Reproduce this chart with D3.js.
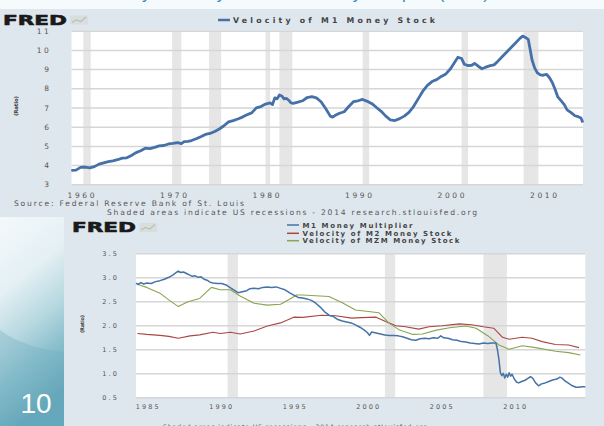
<!DOCTYPE html>
<html><head><meta charset="utf-8">
<script src="https://cdn.jsdelivr.net/npm/d3@7/dist/d3.min.js"></script>
<style>body{margin:0;background:#fff}svg{display:block}</style>
</head><body>
<svg id="c" width="604" height="426"></svg>
<script>
// ---------- DATA ----------
const slideTitle = "Velocity of Money Stock and Money Multiplier (MZM)";
const slideNumber = "10";

// Chart 1: Velocity of M1 Money Stock
const c1Legend = "Velocity of M1 Money Stock";
const c1YTicks = [3,4,5,6,7,8,9,10,11];
const c1XTicks = [1960,1970,1980,1990,2000,2010];
const c1Recessions = [[1960.3,1961.1],[1969.9,1970.9],[1973.9,1975.2],[1980.0,1980.5],[1981.5,1982.9],[1990.5,1991.2],[2001.2,2001.9],[2007.9,2009.5]];
const m1VelYears = [1959.0,1959.5,1960.0,1960.5,1961.0,1961.5,1962.0,1962.5,1963.0,1963.5,1964.0,1964.5,1965.0,1965.5,1966.0,1966.5,1967.0,1967.5,1968.0,1968.5,1969.0,1969.5,1970.0,1970.5,1970.9,1971.2,1971.6,1972.0,1972.5,1973.0,1973.5,1974.0,1974.5,1975.0,1975.5,1976.0,1976.5,1977.0,1977.5,1978.0,1978.5,1979.0,1979.5,1980.0,1980.5,1980.75,1981.0,1981.25,1981.5,1981.75,1982.0,1982.25,1982.5,1982.75,1983.0,1983.5,1984.0,1984.5,1985.0,1985.5,1986.0,1986.5,1987.0,1987.25,1987.5,1988.0,1988.5,1989.0,1989.5,1990.0,1990.5,1991.0,1991.5,1992.0,1992.5,1993.0,1993.5,1994.0,1994.5,1995.0,1995.5,1996.0,1996.5,1997.0,1997.5,1998.0,1998.5,1999.0,1999.5,2000.0,2000.5,2000.8,2001.2,2001.5,2001.9,2002.3,2002.6,2003.0,2003.4,2003.8,2004.3,2004.7,2005.0,2005.5,2006.0,2006.5,2007.0,2007.5,2007.8,2008.1,2008.4,2008.6,2008.8,2009.1,2009.4,2009.7,2010.0,2010.4,2010.7,2011.0,2011.3,2011.6,2011.9,2012.3,2012.6,2013.0,2013.45,2013.8,2014.1,2014.3];
const m1VelValues = [3.72,3.74,3.88,3.90,3.86,3.92,4.05,4.12,4.18,4.22,4.28,4.36,4.38,4.50,4.65,4.75,4.88,4.86,4.92,5.00,5.02,5.10,5.13,5.17,5.12,5.22,5.24,5.28,5.37,5.48,5.60,5.65,5.75,5.88,6.05,6.25,6.32,6.40,6.50,6.62,6.72,6.98,7.05,7.18,7.24,7.15,7.50,7.45,7.65,7.60,7.45,7.48,7.38,7.24,7.22,7.28,7.35,7.52,7.57,7.50,7.30,6.95,6.55,6.50,6.58,6.70,6.78,7.05,7.30,7.35,7.42,7.32,7.20,7.00,6.80,6.55,6.35,6.32,6.42,6.55,6.75,7.05,7.45,7.85,8.15,8.35,8.45,8.62,8.75,9.02,9.40,9.62,9.55,9.25,9.18,9.20,9.30,9.15,9.02,9.10,9.18,9.22,9.35,9.60,9.85,10.10,10.35,10.60,10.72,10.65,10.55,10.05,9.50,9.05,8.80,8.70,8.68,8.72,8.55,8.30,7.95,7.55,7.38,7.15,6.88,6.75,6.57,6.52,6.45,6.22];

// Chart 2
const c2Legend = ["M1 Money Multiplier","Velocity of M2 Money Stock","Velocity of MZM Money Stock"];
const c2YTicks = [0.5,1.0,1.5,2.0,2.5,3.0,3.5];
const c2XTicks = [1985,1990,1995,2000,2005,2010];
const c2Recessions = [[1990.5,1991.2],[2001.2,2001.9],[2007.9,2009.5]];
const m1MultYears = [1984.27,1984.4,1984.6,1984.8,1985.0,1985.3,1985.6,1985.9,1986.2,1986.5,1986.8,1987.0,1987.15,1987.3,1987.5,1987.7,1987.9,1988.1,1988.3,1988.5,1988.7,1988.9,1989.1,1989.3,1989.5,1989.8,1990.1,1990.4,1990.7,1991.0,1991.2,1991.5,1991.8,1992.0,1992.3,1992.6,1992.9,1993.2,1993.5,1993.8,1994.1,1994.4,1994.7,1995.0,1995.3,1995.6,1995.9,1996.2,1996.5,1996.8,1997.1,1997.4,1997.7,1998.0,1998.3,1998.6,1998.9,1999.2,1999.5,1999.8,2000.0,2000.15,2000.3,2000.6,2000.9,2001.2,2001.5,2001.8,2002.1,2002.4,2002.7,2003.0,2003.3,2003.6,2003.9,2004.2,2004.5,2004.8,2005.0,2005.2,2005.5,2005.8,2006.1,2006.4,2006.7,2007.0,2007.3,2007.6,2007.9,2008.2,2008.5,2008.75,2008.85,2008.95,2009.05,2009.15,2009.25,2009.35,2009.45,2009.55,2009.65,2009.75,2009.85,2010.0,2010.15,2010.3,2010.5,2010.7,2010.9,2011.1,2011.25,2011.45,2011.65,2011.85,2012.1,2012.35,2012.6,2012.9,2013.1,2013.25,2013.45,2013.7,2013.95,2014.2,2014.4,2014.6,2014.83];
const m1MultValues = [2.88,2.85,2.89,2.86,2.88,2.87,2.91,2.93,2.96,3.00,3.05,3.10,3.13,3.10,3.11,3.08,3.05,3.02,3.03,3.00,3.01,2.96,2.94,2.90,2.88,2.87,2.87,2.84,2.78,2.72,2.68,2.70,2.72,2.76,2.77,2.76,2.79,2.80,2.79,2.80,2.77,2.74,2.68,2.63,2.58,2.57,2.55,2.52,2.46,2.38,2.28,2.21,2.18,2.12,2.09,2.07,2.05,2.01,1.96,1.90,1.85,1.79,1.86,1.84,1.82,1.80,1.79,1.79,1.78,1.76,1.73,1.70,1.69,1.72,1.73,1.72,1.74,1.73,1.78,1.74,1.73,1.70,1.69,1.66,1.65,1.63,1.62,1.61,1.63,1.62,1.63,1.63,1.50,1.30,1.02,0.95,1.00,0.90,0.98,0.92,1.01,0.94,0.98,0.88,0.82,0.80,0.83,0.85,0.89,0.93,0.90,0.80,0.74,0.78,0.80,0.83,0.86,0.88,0.92,0.90,0.84,0.79,0.74,0.71,0.71,0.72,0.72];
const m2VelYears = [1984.36,1985.0,1985.9,1986.5,1987.15,1987.95,1988.6,1989.5,1990.0,1990.7,1991.35,1992.3,1993.2,1994.1,1995.0,1995.6,1996.9,1997.85,1998.95,1999.6,2000.6,2001.25,2001.95,2002.6,2003.5,2004.2,2005.1,2006.25,2007.1,2007.9,2008.6,2009.2,2009.65,2010.55,2011.2,2011.9,2012.8,2013.7,2014.4];
const m2VelValues = [1.83,1.81,1.79,1.77,1.73,1.78,1.80,1.855,1.83,1.855,1.82,1.88,1.985,2.05,2.17,2.165,2.21,2.20,2.15,2.16,2.17,2.08,1.99,1.97,1.92,1.97,1.99,2.03,2.01,1.97,1.94,1.75,1.71,1.75,1.73,1.66,1.60,1.59,1.535];
const mzmVelYears = [1984.36,1984.6,1985.0,1985.9,1986.5,1987.15,1987.8,1988.6,1989.4,1990.0,1990.7,1991.35,1992.3,1993.2,1994.1,1994.8,1995.2,1995.6,1997.4,1998.3,1999.2,2000.8,2001.5,2002.2,2003.1,2003.75,2004.7,2005.6,2006.7,2007.4,2008.3,2008.95,2009.65,2010.55,2011.45,2012.8,2013.7,2014.5];
const mzmVelValues = [2.86,2.83,2.79,2.67,2.53,2.39,2.49,2.56,2.79,2.74,2.74,2.61,2.46,2.42,2.44,2.56,2.63,2.63,2.60,2.47,2.32,2.26,2.04,1.90,1.81,1.82,1.90,1.95,1.985,1.94,1.76,1.59,1.50,1.575,1.535,1.46,1.43,1.38];
const c2Colors = ["#4572a7","#aa4643","#89a54e"];

const sourceText = "Source: Federal Reserve Bank of St. Louis";
const shadedText = "Shaded areas indicate US recessions - 2014 research.stlouisfed.org";

// ---------- DRAW ----------
const svg = d3.select("#c");
const BG = "#dfe7ee";
const defs = svg.append("defs");
const g1 = defs.append("linearGradient").attr("id","side").attr("x1",0).attr("y1",0).attr("x2",0.25).attr("y2",1);
[["0%","#f4f9fb"],["35%","#e4f0f4"],["60%","#b7d8e0"],["78%","#8cc0cd"],["100%","#62a5b8"]].forEach(s=>g1.append("stop").attr("offset",s[0]).attr("stop-color",s[1]));

svg.append("rect").attr("width",604).attr("height",426).attr("fill",BG);
svg.append("rect").attr("width",604).attr("height",9).attr("fill","#f5fafc");
svg.append("text").attr("x",92).attr("y",-1).attr("font-family","Liberation Sans, Arial, sans-serif").attr("font-size",17).attr("fill","#2b8cc4").text(slideTitle);
svg.append("rect").attr("x",0).attr("y",217).attr("width",64).attr("height",209).attr("fill","url(#side)");
svg.append("path").attr("d","M0,330 C20,345 45,350 64,352 L64,426 L0,426 Z").attr("fill","#6fb0c1").attr("opacity",0.35);
svg.append("text").attr("x",36).attr("y",413).attr("text-anchor","middle").attr("font-family","Liberation Sans, Arial, sans-serif").attr("font-size",28).attr("fill","#ffffff").text(slideNumber);

function fredLogo(x,y,w,h){
  const g = svg.append("g");
  g.append("text").attr("x",x).attr("y",y+h).attr("font-family","DejaVu Sans, sans-serif").attr("font-weight","bold")
    .attr("font-size",h*1.38).attr("textLength",w).attr("lengthAdjust","spacingAndGlyphs").attr("fill","#1a1a1a").attr("stroke","#1a1a1a").attr("stroke-width",0.6).text("FRED");
  const ix = x+w+3, iw = h*1.8;
  g.append("rect").attr("x",ix).attr("y",y+1).attr("width",iw).attr("height",h-1).attr("fill","#d9dde0");
  g.append("path").attr("d",`M${ix+2},${y+h-2} L${ix+iw*0.35},${y+h*0.55} L${ix+iw*0.6},${y+h*0.7} L${ix+iw-2},${y+h*0.25}`).attr("fill","none").attr("stroke","#b5c6a8").attr("stroke-width",1.2);
}

// ----- Chart 1 -----
const p1 = {l:71.5, r:583, t:30.7, b:184.3};
const x1 = d3.scaleLinear().domain([1959,2014.3]).range([71.3,582.8]);
const y1 = d3.scaleLinear().domain([3,11]).range([p1.b,p1.t]);
fredLogo(3,14.5,64,10);
svg.append("rect").attr("x",p1.l).attr("y",p1.t).attr("width",p1.r-p1.l).attr("height",p1.b-p1.t).attr("fill","#fff");
svg.append("g").selectAll("rect").data(c1Recessions).join("rect")
  .attr("x",d=>x1(d[0])).attr("width",d=>x1(d[1])-x1(d[0])).attr("y",p1.t).attr("height",p1.b-p1.t).attr("fill","#e6e6e6");
const gy1 = svg.append("g").attr("transform",`translate(${p1.l},0)`)
  .call(d3.axisLeft(y1).tickValues(c1YTicks).tickFormat(d3.format("d")).tickSize(-(p1.r-p1.l)).tickPadding(20));
gy1.select(".domain").remove();
gy1.selectAll("line").attr("stroke","#d6d6d6").attr("stroke-width",1.5);
gy1.selectAll("text").attr("font-family","DejaVu Sans, sans-serif").attr("font-size",7.5).attr("letter-spacing",2.6).attr("fill","#555").attr("dy","0.35em");
const gx1 = svg.append("g").attr("transform",`translate(0,${p1.b})`)
  .call(d3.axisBottom(x1).tickValues(c1XTicks).tickFormat(d3.format("d")).tickSize(0).tickPadding(8));
gx1.select(".domain").remove();
gx1.selectAll("text").attr("font-family","DejaVu Sans, sans-serif").attr("font-size",7.5).attr("letter-spacing",2.6).attr("fill","#555").attr("dx","1.3");
const line1 = d3.line().x((d,i)=>x1(m1VelYears[i])).y(d=>y1(d)).curve(d3.curveLinear);
svg.append("path").datum(m1VelValues).attr("d",line1).attr("fill","none").attr("stroke","#4570a8").attr("stroke-width",2.8).attr("stroke-linejoin","round");
svg.append("text").attr("transform","translate(18,106) rotate(-90)").attr("text-anchor","middle").attr("font-family","DejaVu Sans, sans-serif").attr("font-weight","bold").attr("font-size",5.5).attr("fill","#444").attr("textLength",20).text("(Ratio)");
// legend 1
svg.append("line").attr("x1",218).attr("x2",230).attr("y1",20).attr("y2",20).attr("stroke","#4570a8").attr("stroke-width",2.5);
svg.append("text").attr("x",233).attr("y",23).attr("font-family","DejaVu Sans, sans-serif").attr("font-weight","bold").attr("font-size",7.8).attr("fill","#444").attr("textLength",202).attr("lengthAdjust","spacing").text(c1Legend);
svg.append("text").attr("x",14).attr("y",205.5).attr("font-family","DejaVu Sans, sans-serif").attr("font-size",7.6).attr("fill","#555").attr("textLength",230).attr("lengthAdjust","spacing").text(sourceText);
svg.append("text").attr("x",107).attr("y",214.5).attr("font-family","DejaVu Sans, sans-serif").attr("font-size",7.6).attr("fill","#555").attr("textLength",370).attr("lengthAdjust","spacing").text(shadedText);

// ----- Chart 2 -----
const p2 = {l:136, r:585.3, t:253.3, b:397.3};
const x2 = d3.scaleLinear().domain([1984.27,2014.83]).range([p2.l,p2.r]);
const y2 = d3.scaleLinear().domain([0.5,3.5]).range([p2.b,p2.t]);
fredLogo(72,222,64,10);
svg.append("rect").attr("x",p2.l).attr("y",p2.t).attr("width",p2.r-p2.l).attr("height",p2.b-p2.t).attr("fill","#fff");
svg.append("g").selectAll("rect").data(c2Recessions).join("rect")
  .attr("x",d=>x2(d[0])).attr("width",d=>x2(d[1])-x2(d[0])).attr("y",p2.t).attr("height",p2.b-p2.t).attr("fill","#e6e6e6");
const gy2 = svg.append("g").attr("transform",`translate(${p2.l},0)`)
  .call(d3.axisLeft(y2).tickValues(c2YTicks).tickFormat(d3.format(".1f")).tickSize(-(p2.r-p2.l)).tickPadding(17));
gy2.select(".domain").remove();
gy2.selectAll("line").attr("stroke","#d6d6d6").attr("stroke-width",1.5);
gy2.selectAll("text").attr("font-family","DejaVu Sans, sans-serif").attr("font-size",6.5).attr("letter-spacing",2.1).attr("fill","#555").attr("dy","0.35em");
const gx2 = svg.append("g").attr("transform",`translate(0,${p2.b})`)
  .call(d3.axisBottom(x2).tickValues(c2XTicks).tickFormat(d3.format("d")).tickSize(0).tickPadding(7));
gx2.select(".domain").remove();
gx2.selectAll("text").attr("font-family","DejaVu Sans, sans-serif").attr("font-size",6.5).attr("letter-spacing",2.1).attr("fill","#555").attr("dx","1");
const series2 = [[m1MultYears,m1MultValues],[m2VelYears,m2VelValues],[mzmVelYears,mzmVelValues]];
const order = [1,2,0];
order.forEach(k=>{
  const [ys,vs] = series2[k];
  const ln = d3.line().x((d,i)=>x2(ys[i])).y(d=>y2(d));
  svg.append("path").datum(vs).attr("d",ln).attr("fill","none").attr("stroke",c2Colors[k]).attr("stroke-width",k===0?1.5:1.1).attr("stroke-linejoin","round");
});
svg.append("text").attr("transform","translate(84,324) rotate(-90)").attr("text-anchor","middle").attr("font-family","DejaVu Sans, sans-serif").attr("font-weight","bold").attr("font-size",5).attr("fill","#444").attr("textLength",18).text("(Ratio)");
const legLens = [110,149,157];
const legY = [225,233.3,240.7];
c2Legend.forEach((t,i)=>{
  svg.append("line").attr("x1",287).attr("x2",299).attr("y1",legY[i]).attr("y2",legY[i]).attr("stroke",c2Colors[i]).attr("stroke-width",1.5);
  svg.append("text").attr("x",302.5).attr("y",legY[i]+2.6).attr("font-family","DejaVu Sans, sans-serif").attr("font-weight","bold").attr("font-size",7).attr("fill","#444").attr("textLength",legLens[i]).attr("lengthAdjust","spacing").text(t);
});
svg.append("text").attr("x",163).attr("y",428.5).attr("font-family","DejaVu Sans, sans-serif").attr("font-size",6.2).attr("fill","#555").attr("textLength",264).attr("lengthAdjust","spacing").text(shadedText);
</script>
</body></html>
